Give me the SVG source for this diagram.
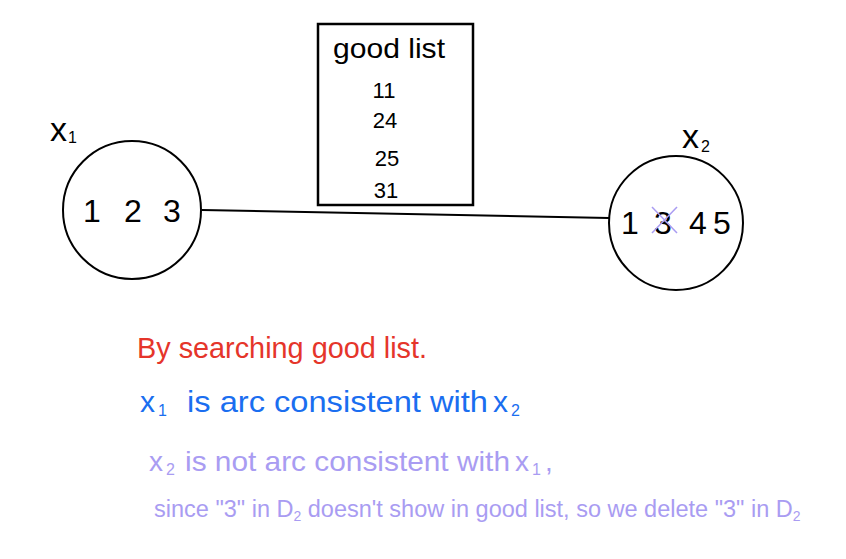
<svg xmlns="http://www.w3.org/2000/svg" width="846" height="559" viewBox="0 0 846 559">
<style>
.node{fill:none;stroke:#000;stroke-width:2}
.hw{font-family:"Liberation Sans","DejaVu Sans",sans-serif;fill:#000}
.num{font-size:32px;text-anchor:middle}
.lst{font-size:22px;text-anchor:middle}
.red{fill:#e5352a}
.blue{fill:#1a6ef0}
.pur{fill:#a99cf2}
.s{font-size:16px}
</style>
<rect width="846" height="559" fill="#fff"/>
<g id="edges">
<line x1="202" y1="210" x2="609" y2="218" stroke="#000" stroke-width="2"/>
</g>
<g id="x1">
<circle class="node" cx="132" cy="210" r="69"/>
<text class="hw" x="50" y="141" font-size="34">x</text>
<text class="hw s" x="68" y="143" font-size="20">1</text>
<text class="hw num" x="92" y="222">1</text>
<text class="hw num" x="133" y="222">2</text>
<text class="hw num" x="172" y="222">3</text>
</g>
<g id="x2">
<circle class="node" cx="676" cy="223" r="67"/>
<text class="hw" x="682" y="148" font-size="34">x</text>
<text class="hw s" x="701" y="152">2</text>
<text class="hw num" x="630" y="234">1</text>
<text class="hw num" x="663" y="234">3</text>
<text class="hw num" x="698" y="234">4</text>
<text class="hw num" x="722" y="234">5</text>
<line x1="652" y1="207" x2="677" y2="233" stroke="#a99cf2" stroke-width="1.5"/>
<line x1="677" y1="207" x2="652" y2="233" stroke="#a99cf2" stroke-width="1.5"/>
</g>
<g id="goodlist">
<rect x="318" y="24" width="155" height="181" fill="none" stroke="#000" stroke-width="2.5"/>
<text class="hw" x="333" y="58" font-size="28" textLength="112" lengthAdjust="spacingAndGlyphs">good list</text>
<text class="hw lst" x="384" y="98">11</text>
<text class="hw lst" x="385" y="128">24</text>
<text class="hw lst" x="387" y="166">25</text>
<text class="hw lst" x="386" y="198">31</text>
</g>
<g id="notes">
<text class="hw red" x="137" y="358" font-size="30" textLength="290" lengthAdjust="spacingAndGlyphs">By searching good list.</text>

<text class="hw blue" x="140" y="412" font-size="30">x</text>
<text class="hw blue s" x="158" y="416">1</text>
<text class="hw blue" x="187" y="412" font-size="30" textLength="301" lengthAdjust="spacingAndGlyphs">is arc consistent with</text>
<text class="hw blue" x="493" y="412" font-size="30">x</text>
<text class="hw blue s" x="511" y="416">2</text>

<text class="hw pur" x="149" y="471" font-size="28">x</text>
<text class="hw pur s" x="166" y="475">2</text>
<text class="hw pur" x="185" y="471" font-size="28" textLength="325" lengthAdjust="spacingAndGlyphs">is not arc consistent with</text>
<text class="hw pur" x="515" y="471" font-size="28">x</text>
<text class="hw pur s" x="532" y="475">1</text>
<text class="hw pur" x="545" y="471" font-size="28">,</text>

<text class="hw pur" x="154" y="517" font-size="23.5">since "3" in D<tspan font-size="14" dy="4">2</tspan><tspan dy="-4"> doesn't show in good list, so we delete "3" in D</tspan><tspan font-size="14" dy="4">2</tspan></text>
</g>
</svg>
